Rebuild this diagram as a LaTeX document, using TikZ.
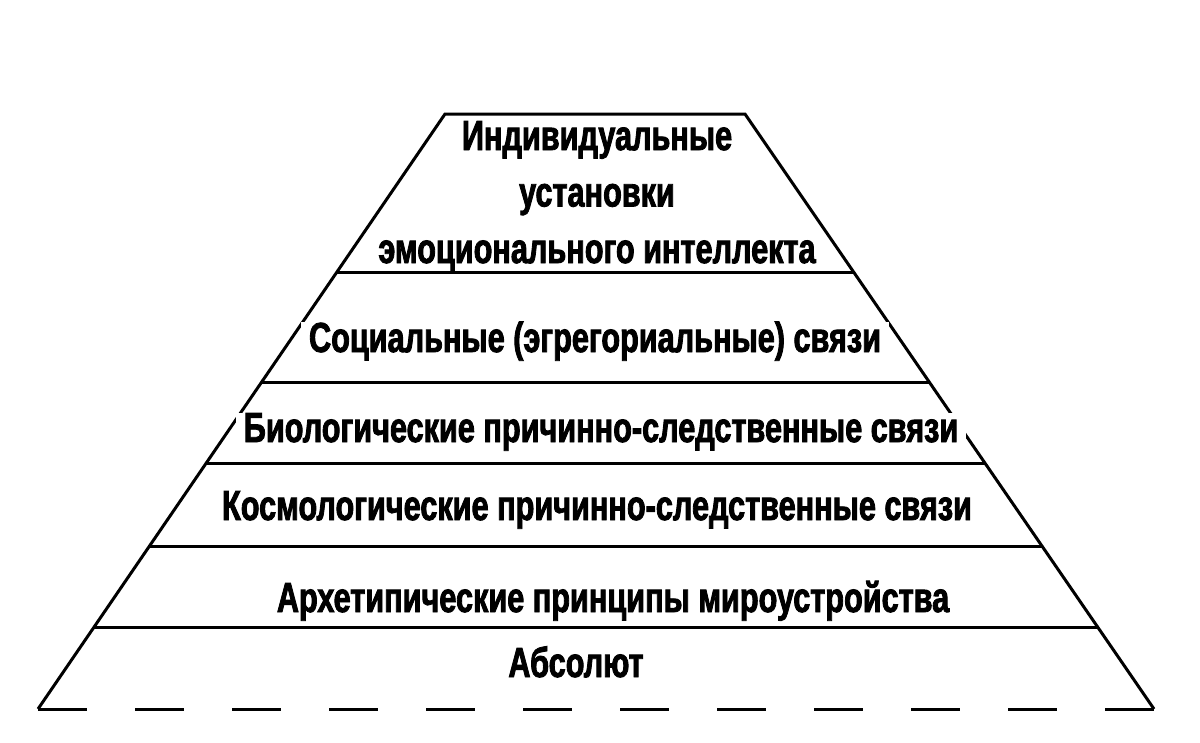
\documentclass[tikz,border=0pt]{standalone}
\usepackage{fontspec}
\newfontfamily\pyrfont[FakeStretch=0.73,FakeBold=2]{Liberation Sans Bold}
\begin{document}
\begin{tikzpicture}[x=1pt,y=-1pt]
	\tikzstyle{every node}+=[inner xsep=8pt,inner ysep=0pt]
	\tikzset{
		edge/.style={black,line width=3pt},
		tier/.style={font=\pyrfont\fontsize{42}{56.5}\selectfont,fill=white,anchor=base,align=center}
	}
	\useasboundingbox (0,0) rectangle (1200,742);
	% sides and top
	\draw [edge,line join=miter] (38,709) -- (445,114) -- (745,114) -- (1154,709);
	% labels
	\node [tier,fill=none] (ego) at (597,263) {Индивидуальные\\установки\\эмоционального интеллекта};
	\node [tier] (social) at (595,352) {Социальные (эгрегориальные) связи};
	\node [tier] (bio) at (601,442) {Биологические причинно-следственные связи};
	\node [tier] (cosmo) at (597,520) {Космологические причинно-следственные связи};
	\node [tier] (arche) at (613,612) {Архетипические принципы мироустройства};
	\node [tier] (absolute) at (576,677) {Абсолют};
	% layer lines
	\foreach \y in {272,382,463,546,627}
		\draw [edge] ({38+(709-\y)*0.684},\y) -- ({1154-(709-\y)*0.6874},\y);
	% base
	\draw [edge,dash pattern=on 49pt off 48pt] (38,709) -- (1154,709);
\end{tikzpicture}
\end{document}
